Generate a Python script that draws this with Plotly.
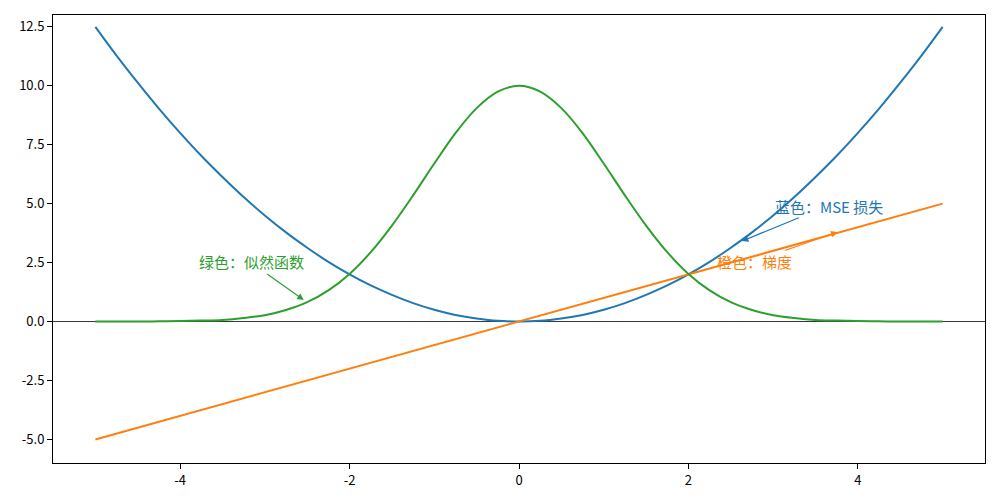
import plotly.graph_objects as go

# Sampled x positions
x_vals = [-5.0, -4.75, -4.5, -4.25, -4.0, -3.75, -3.5, -3.25, -3.0, -2.75, -2.5, -2.25,
          -2.0, -1.75, -1.5, -1.25, -1.0, -0.75, -0.5, -0.25, 0.0, 0.25, 0.5, 0.75,
          1.0, 1.25, 1.5, 1.75, 2.0, 2.25, 2.5, 2.75, 3.0, 3.25, 3.5, 3.75, 4.0,
          4.25, 4.5, 4.75, 5.0]

# Blue: MSE loss
mse_loss = [12.5, 11.28, 10.13, 9.03, 8.0, 7.03, 6.13, 5.28, 4.5, 3.78, 3.13, 2.53,
            2.0, 1.53, 1.13, 0.78, 0.5, 0.28, 0.13, 0.03, 0.0, 0.03, 0.13, 0.28,
            0.5, 0.78, 1.13, 1.53, 2.0, 2.53, 3.13, 3.78, 4.5, 5.28, 6.13, 7.03, 8.0,
            9.03, 10.13, 11.28, 12.5]

# Orange: gradient
gradient = [-5.0, -4.75, -4.5, -4.25, -4.0, -3.75, -3.5, -3.25, -3.0, -2.75, -2.5, -2.25,
            -2.0, -1.75, -1.5, -1.25, -1.0, -0.75, -0.5, -0.25, 0.0, 0.25, 0.5, 0.75,
            1.0, 1.25, 1.5, 1.75, 2.0, 2.25, 2.5, 2.75, 3.0, 3.25, 3.5, 3.75, 4.0,
            4.25, 4.5, 4.75, 5.0]

# Green: likelihood
likelihood = [0.0, 0.0, 0.0, 0.01, 0.02, 0.04, 0.07, 0.15, 0.27, 0.49, 0.82, 1.32,
              2.02, 2.94, 4.07, 5.35, 6.70, 7.99, 9.05, 9.75, 10.0, 9.75, 9.05, 7.99,
              6.70, 5.35, 4.07, 2.94, 2.02, 1.32, 0.82, 0.49, 0.27, 0.15, 0.07, 0.04, 0.02,
              0.01, 0.0, 0.0, 0.0]

x_ticks = [-4, -2, 0, 2, 4]
x_tick_labels = ["-4", "-2", "0", "2", "4"]
y_ticks = [-5.0, -2.5, 0.0, 2.5, 5.0, 7.5, 10.0, 12.5]
y_tick_labels = ["-5.0", "-2.5", "0.0", "2.5", "5.0", "7.5", "10.0", "12.5"]

BLUE = "#1f77b4"
ORANGE = "#ff7f0e"
GREEN = "#2ca02c"
FONT = "Noto Sans CJK SC, Noto Sans, sans-serif"

fig = go.Figure()
fig.add_trace(go.Scatter(x=x_vals, y=mse_loss, mode="lines", line=dict(color=BLUE, width=2, shape="spline"), showlegend=False))
fig.add_trace(go.Scatter(x=x_vals, y=gradient, mode="lines", line=dict(color=ORANGE, width=2), showlegend=False))
fig.add_trace(go.Scatter(x=x_vals, y=likelihood, mode="lines", line=dict(color=GREEN, width=2, shape="spline"), showlegend=False))

# horizontal line at y = 0
fig.add_shape(type="line", xref="paper", yref="y", x0=0, x1=1, y0=0, y1=0,
              line=dict(color="black", width=0.8), layer="below")

# annotation texts
texts = [
    ("蓝色：MSE 损失", 3.0, 4.88, BLUE),
    ("橙色：梯度", 2.31, 2.54, ORANGE),
    ("绿色：似然函数", -3.80, 2.54, GREEN),
]
for t, tx, ty, c in texts:
    fig.add_annotation(x=tx, y=ty, xref="x", yref="y", text=t, showarrow=False,
                       xanchor="left", yanchor="middle",
                       font=dict(family=FONT, size=15, color=c))

# arrows (head, tail)
arrows = [
    ((2.63, 3.41), (3.32, 4.43), BLUE),
    ((3.76, 3.80), (3.12, 2.99), ORANGE),
    ((-2.54, 0.91), (-2.99, 2.06), GREEN),
]
for (hx, hy), (tx, ty), c in arrows:
    fig.add_annotation(x=hx, y=hy, ax=tx, ay=ty, xref="x", yref="y", axref="x", ayref="y",
                       text="", showarrow=True, arrowhead=2, arrowsize=1.1, arrowwidth=1.2,
                       arrowcolor=c, standoff=0, startstandoff=0)

axis_common = dict(showgrid=False, zeroline=False, showline=True, linecolor="black", linewidth=1,
                   mirror=True, ticks="outside", ticklen=5, tickwidth=1, tickcolor="black",
                   tickfont=dict(family=FONT, size=13, color="black"))

fig.update_xaxes(range=[-5.5, 5.5], tickvals=x_ticks, ticktext=x_tick_labels, **axis_common)
fig.update_yaxes(range=[-6, 13], tickvals=y_ticks, ticktext=y_tick_labels, **axis_common)

fig.update_layout(width=1000, height=500, margin=dict(l=53, r=15, t=15, b=37),
                  plot_bgcolor="white", paper_bgcolor="white",
                  font=dict(family=FONT))

fig.write_html("out.html", config={"displayModeBar": False},
               post_script="document.body.style.margin='0';document.body.style.overflow='hidden';")
